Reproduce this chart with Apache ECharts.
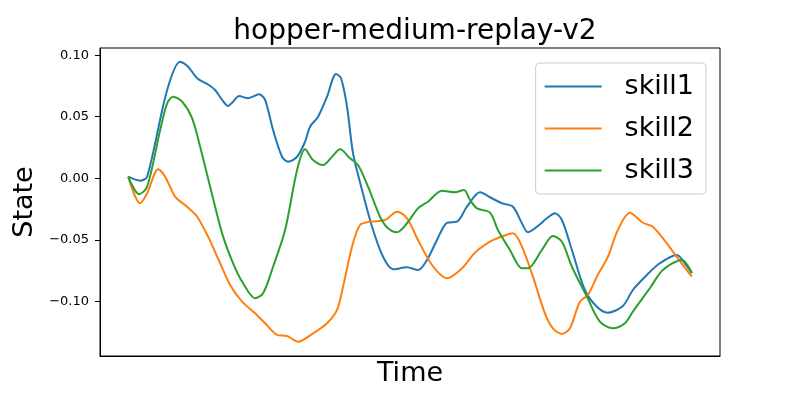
<!DOCTYPE html>
<html>
<head>
<meta charset="utf-8">
<script src="https://cdn.jsdelivr.net/npm/echarts@6/dist/echarts.min.js"></script>
<style>
  html, body { margin: 0; padding: 0; background: #fff; }
  #chart { width: 800px; height: 400px; }
</style>
</head>
<body>
<div id="chart"></div>
<script>
// time steps and state values for each skill
const skill1Time = [0, 12, 19, 39, 52, 60, 69, 79, 87, 94, 100, 105, 111, 120, 131, 137, 145, 154, 160, 169, 177, 182, 190, 199, 208, 213, 219, 225, 234, 244, 255, 265, 279, 290, 299, 309, 319, 329, 339, 352, 364, 374, 385, 394, 400, 409, 419, 427, 434, 444, 457, 469, 480, 495, 505, 519, 532, 549, 557, 564];
const skill1State = [0.0013, -0.0019, 0.0013, 0.0717, 0.0947, 0.0906, 0.0812, 0.0766, 0.0717, 0.0636, 0.0587, 0.0622, 0.0668, 0.0650, 0.0682, 0.0636, 0.0392, 0.0175, 0.0135, 0.0175, 0.0297, 0.0419, 0.0500, 0.0663, 0.0847, 0.0812, 0.0581, 0.0203, -0.0095, -0.0393, -0.0637, -0.0739, -0.0723, -0.0745, -0.0663, -0.0501, -0.0361, -0.0352, -0.0231, -0.0114, -0.0162, -0.0203, -0.0231, -0.0365, -0.0438, -0.0393, -0.0325, -0.0284, -0.0339, -0.0582, -0.0907, -0.1043, -0.1091, -0.1037, -0.0907, -0.0785, -0.0690, -0.0623, -0.0690, -0.0771];

const skill2Time = [0, 12, 19, 30, 37, 47, 59, 69, 80, 92, 102, 114, 127, 137, 149, 159, 170, 185, 199, 209, 215, 224, 232, 242, 257, 269, 279, 290, 304, 319, 334, 347, 362, 372, 385, 394, 405, 417, 425, 434, 442, 452, 460, 469, 480, 490, 502, 515, 525, 539, 550, 564];
const skill2State = [0.0013, -0.0203, -0.0122, 0.0073, 0.0013, -0.0149, -0.0231, -0.0312, -0.0474, -0.0690, -0.0866, -0.1002, -0.1096, -0.1177, -0.1272, -0.1281, -0.1327, -0.1259, -0.1177, -0.1069, -0.0880, -0.0555, -0.0379, -0.0352, -0.0339, -0.0271, -0.0325, -0.0501, -0.0704, -0.0812, -0.0731, -0.0604, -0.0515, -0.0479, -0.0447, -0.0555, -0.0799, -0.1096, -0.1218, -0.1264, -0.1218, -0.1002, -0.0948, -0.0799, -0.0637, -0.0420, -0.0279, -0.0361, -0.0393, -0.0528, -0.0650, -0.0799];

const skill3Time = [0, 11, 19, 32, 39, 45, 54, 64, 72, 82, 94, 105, 115, 127, 135, 145, 157, 169, 177, 185, 195, 204, 212, 222, 230, 240, 252, 260, 269, 279, 290, 300, 314, 327, 336, 342, 349, 362, 370, 382, 394, 400, 414, 425, 434, 444, 459, 472, 485, 497, 505, 522, 535, 554, 564];
const skill3State = [0.0013, -0.0130, -0.0068, 0.0392, 0.0609, 0.0663, 0.0622, 0.0487, 0.0257, -0.0068, -0.0447, -0.0690, -0.0853, -0.0974, -0.0934, -0.0718, -0.0420, 0.0067, 0.0235, 0.0149, 0.0108, 0.0175, 0.0235, 0.0162, 0.0108, -0.0068, -0.0312, -0.0406, -0.0438, -0.0365, -0.0244, -0.0190, -0.0101, -0.0114, -0.0095, -0.0176, -0.0244, -0.0279, -0.0420, -0.0582, -0.0731, -0.0731, -0.0582, -0.0469, -0.0515, -0.0718, -0.0961, -0.1164, -0.1218, -0.1177, -0.1083, -0.0893, -0.0745, -0.0663, -0.0767];

const yTicks = [-0.10, -0.05, 0.00, 0.05, 0.10];
const skillNames = ["skill1", "skill2", "skill3"];
const colors = ["#1f77b4", "#ff7f0e", "#2ca02c"];

function zip(t, v) {
  return t.map((x, i) => [x, v[i]]);
}

const chart = echarts.init(document.getElementById("chart"));
const font = "DejaVu Sans";

const seriesData = [
  zip(skill1Time, skill1State),
  zip(skill2Time, skill2State),
  zip(skill3Time, skill3State),
];

chart.setOption({
  animation: false,
  title: {
    text: "hopper-medium-replay-v2",
    left: 410,
    textAlign: "center",
    top: 13,
    textStyle: { fontFamily: font, fontSize: 28, fontWeight: "normal", color: "#000" },
  },
  grid: {
    left: 100, right: 80, top: 48, bottom: 44,
    show: true, borderColor: "#000", borderWidth: 1,
  },
  legend: {
    orient: "vertical",
    right: 94,
    top: 63,
    data: skillNames,
    icon: "rect",
    itemWidth: 57,
    itemHeight: 2,
    itemGap: 15,
    padding: [10, 12, 10, 9],
    backgroundColor: "rgba(255,255,255,0.8)",
    borderColor: "#cccccc",
    borderWidth: 1,
    borderRadius: 4,
    textStyle: { fontFamily: font, fontSize: 27, color: "#000", padding: [0, 0, 0, 18] },
  },
  xAxis: {
    type: "value",
    min: -28.2,
    max: 592.2,
    name: "Time",
    nameLocation: "middle",
    nameGap: 4,
    nameTextStyle: { fontFamily: font, fontSize: 27, color: "#000", verticalAlign: "top" },
    axisLine: { show: true, onZero: false, lineStyle: { color: "#000", width: 1 } },
    axisTick: { show: false },
    axisLabel: { show: false },
    splitLine: { show: false },
  },
  yAxis: {
    type: "value",
    min: -0.1443,
    max: 0.1058,
    name: "State",
    nameLocation: "middle",
    nameGap: 58,
    nameTextStyle: { fontFamily: font, fontSize: 27, color: "#000" },
    axisLine: { show: true, onZero: false, lineStyle: { color: "#000", width: 1 } },
    axisTick: { show: true, inside: false, length: 5, customValues: yTicks, lineStyle: { color: "#000", width: 1 } },
    axisLabel: {
      customValues: yTicks,
      margin: 11,
      fontFamily: font,
      fontSize: 13,
      color: "#000",
      formatter: (v) => (v < -1e-9 ? "\u2212" : "") + Math.abs(v).toFixed(2),
    },
    splitLine: { show: false },
  },
  series: skillNames.map((name, i) => ({
    name: name,
    type: "line",
    data: seriesData[i],
    smooth: 0.3,
    showSymbol: false,
    symbol: "none",
    lineStyle: { width: 2, color: colors[i] },
    itemStyle: { color: colors[i] },
  })),
});
</script>
</body>
</html>
